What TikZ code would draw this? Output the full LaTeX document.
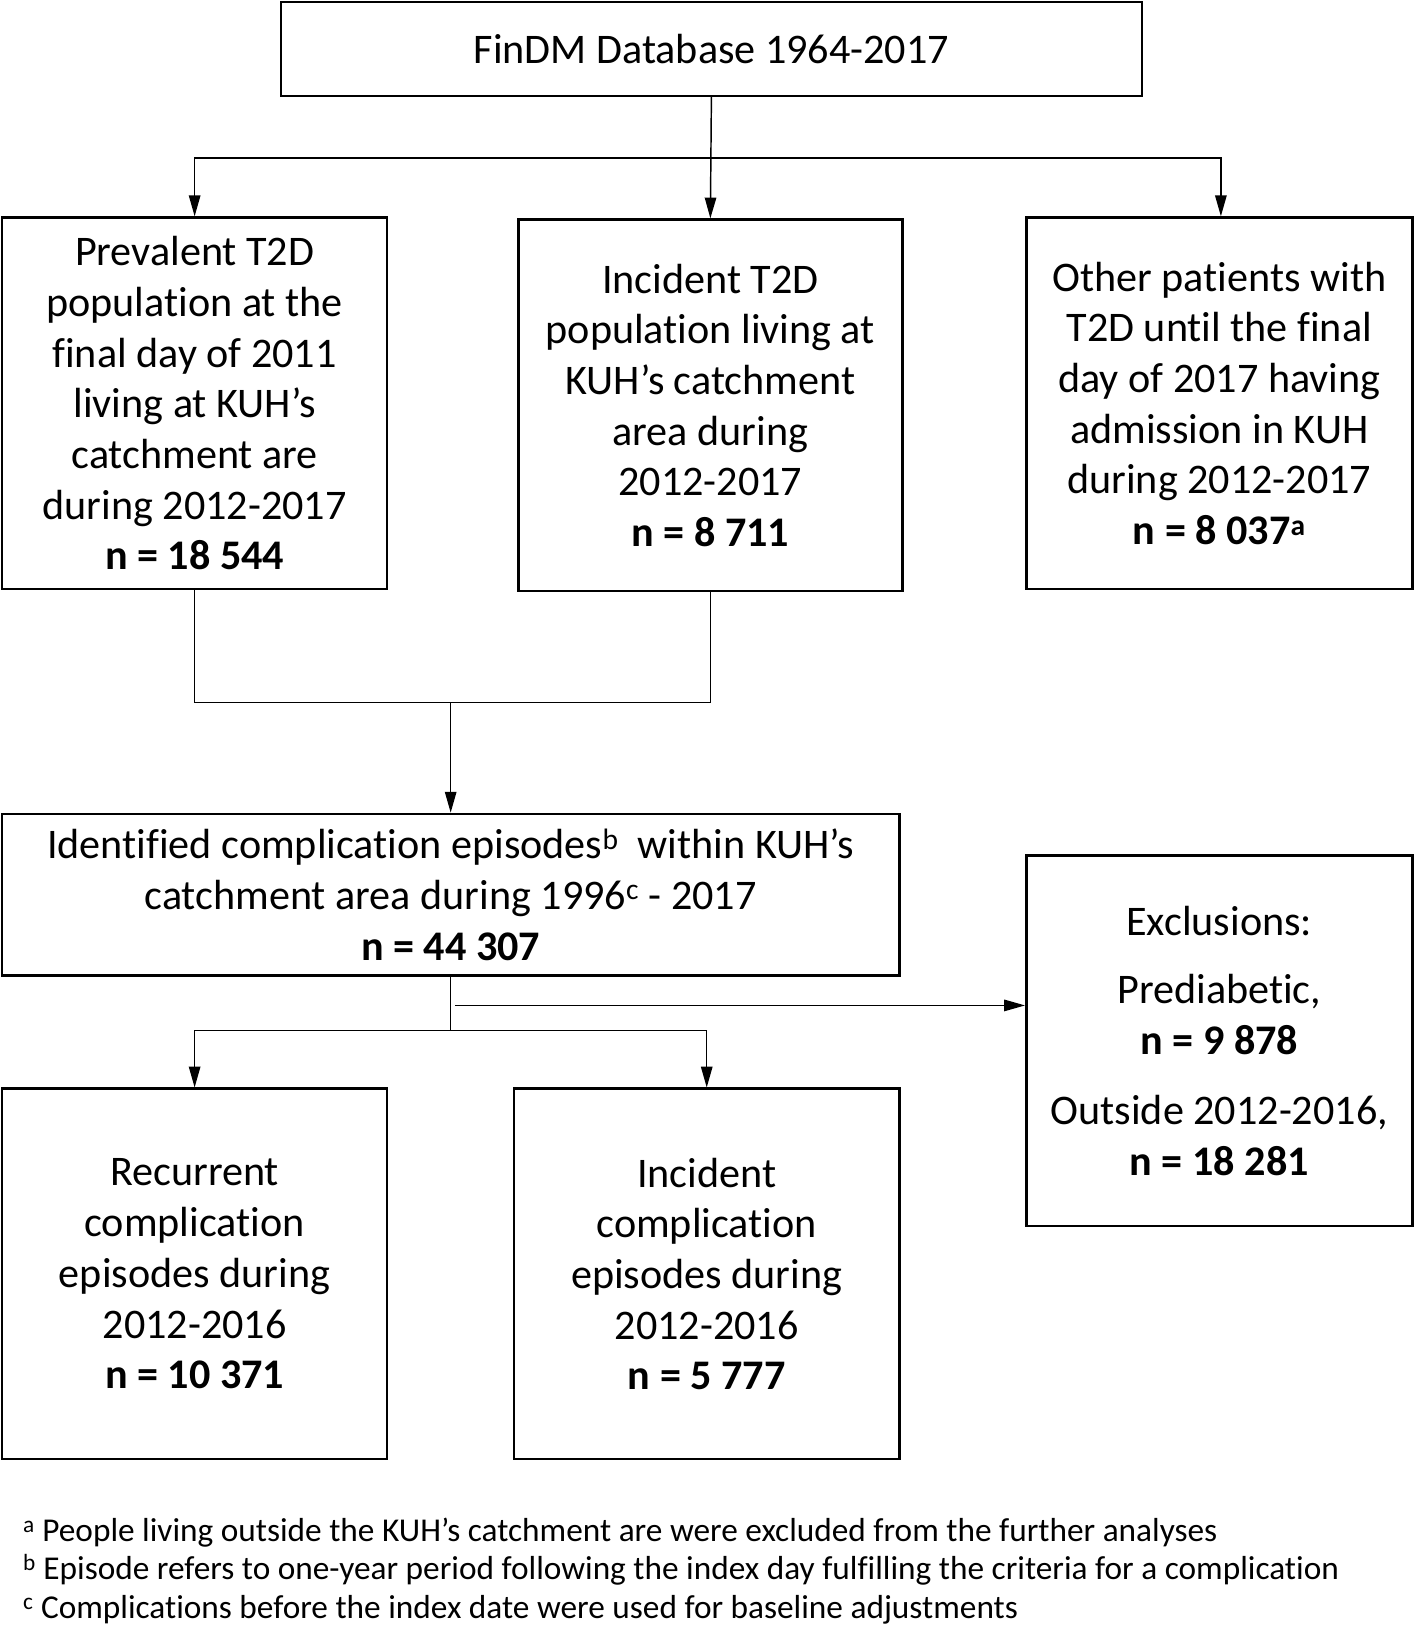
\documentclass[tikz,border=0pt]{standalone}
\usepackage{fontspec}
\setmainfont{Carlito}[RawFeature=-liga,RawFeature=-clig,RawFeature=-calt]
\usetikzlibrary{arrows.meta}
\begin{document}
\begin{tikzpicture}[x=1pt,y=-1pt,
  box/.style={draw,line width=2.4pt,inner sep=0pt,align=center,
    font=\fontsize{40.5}{48.7}\selectfont},
  conn/.style={line width=1.4pt},
  arr/.style={conn,-{Triangle[width=11pt,length=20pt]}},
  fnote/.style={anchor=base west,inner sep=0pt,font=\fontsize{32}{36}\selectfont}]
\useasboundingbox (0,0) rectangle (1360,1568);
\fill[white] (0,0) rectangle (1360,1568);

\node[box,minimum width=827pt,minimum height=90pt] (top) at (683.5,47) {FinDM Database 1964-2017};

\node[box,minimum width=370pt,minimum height=357pt] (b1) at (187,387.5)
 {Prevalent T2D\\population at the\\final day of 2011\\living at KUH’s\\catchment are\\during 2012-2017\\\textbf{n = 18 544}};
\node[box,minimum width=369pt,minimum height=357pt] (b2) at (682.5,389.5)
 {Incident T2D\\population living at\\KUH’s catchment\\area during\\2012-2017\\\textbf{n = 8 711}};
\node[box,minimum width=371pt,minimum height=357pt] (b3) at (1171.5,387.5)
 {Other patients with\\T2D until the final\\day of 2017 having\\admission in KUH\\during 2012-2017\\\textbf{n = 8 037\textsuperscript{a}}};

\node[box,minimum width=862pt,minimum height=155pt] (b4) at (433,859.5)
 {Identified complication episodes\textsuperscript{b}\ \ within KUH’s\\catchment area during 1996\textsuperscript{c} - 2017\\\textbf{n = 44 307}};

\node[box,minimum width=371pt,minimum height=356pt] (b7) at (1171.5,1000)
 {Exclusions:\\[17pt]Prediabetic,\\\textbf{n = 9 878}\\[19pt]Outside 2012-2016,\\\textbf{n = 18 281}};

\node[box,minimum width=370pt,minimum height=356pt] (b5) at (187,1224)
 {Recurrent\\complication\\episodes during\\2012-2016\\\textbf{n = 10 371}};
\node[box,minimum width=370pt,minimum height=356pt] (b6) at (679,1224)
 {Incident\\complication\\episodes during\\2012-2016\\\textbf{n = 5 777}};

% connectors
\coordinate (j1) at (683,152);
\draw[conn] (top.south) -- (j1);
\draw[arr] (j1) -- (b2.north);
\draw[arr] (j1) -| (b1.north);
\draw[arr] (j1) -| ([xshift=1.5pt]b3.north);

\coordinate (j2) at (433,675);
\draw[conn] (b1.south) |- (j2) -| (b2.south);
\draw[arr] (j2) -- (b4.north);

\coordinate (j3) at (433,990);
\coordinate (j4) at (437,966);
\draw[conn] (b4.south) -- (j3);
\draw[arr] (j3) -| (b5.north);
\draw[arr] (j3) -| (b6.north);
\draw[arr] (j4) -- (j4 -| b7.west);

% footnotes
\node[fnote] (f1) at (22,1481) {\textsuperscript{a} People living outside the KUH’s catchment are were excluded from the further analyses};
\node[fnote] (f2) at (22,1518) {\textsuperscript{b} Episode refers to one-year period following the index day fulfilling the criteria for a complication};
\node[fnote] (f3) at (22,1555) {\textsuperscript{c} Complications before the index date were used for baseline adjustments};
\end{tikzpicture}
\end{document}
